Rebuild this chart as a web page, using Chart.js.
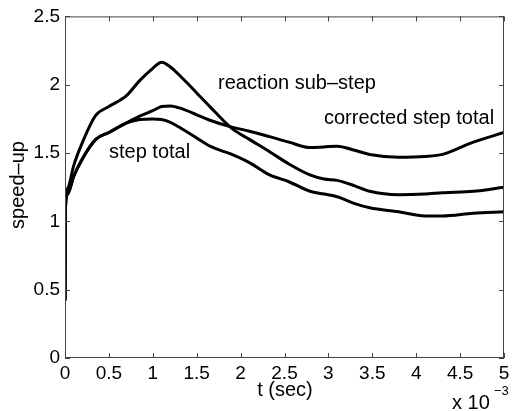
<!DOCTYPE html>
<html>
<head>
<meta charset="utf-8">
<script src="https://cdn.jsdelivr.net/npm/chart.js@4"></script>
<style>
  html, body { margin: 0; padding: 0; background: #fff; }
  #wrap { width: 516px; height: 411px; }
</style>
</head>
<body>
<div id="wrap"><canvas id="speedChart" width="516" height="411"></canvas></div>
<script>
// time in units of 1e-3 sec
const times = [0, 0.005, 0.03, 0.1, 0.2, 0.35, 0.5, 0.7, 0.85, 1.0, 1.1, 1.2, 1.35, 1.5, 1.65, 1.9, 2.1, 2.33, 2.55, 2.79, 2.95, 3.1, 3.3, 3.47, 3.8, 4.1, 4.3, 4.65, 5.0];
const reactionSubStep = [0.42, 1.12, 1.24, 1.41, 1.58, 1.775, 1.84, 1.92, 2.03, 2.12, 2.165, 2.13, 2.04, 1.94, 1.84, 1.68, 1.60, 1.51, 1.42, 1.34, 1.31, 1.30, 1.26, 1.22, 1.195, 1.20, 1.21, 1.22, 1.25];
const correctedStepTotal = [0.42, 1.1, 1.2, 1.33, 1.46, 1.60, 1.65, 1.72, 1.77, 1.81, 1.84, 1.845, 1.82, 1.78, 1.74, 1.69, 1.66, 1.62, 1.58, 1.54, 1.545, 1.55, 1.52, 1.49, 1.47, 1.475, 1.49, 1.58, 1.65];
const stepTotal = [0.42, 1.1, 1.2, 1.33, 1.46, 1.60, 1.65, 1.72, 1.745, 1.75, 1.745, 1.725, 1.67, 1.61, 1.55, 1.49, 1.43, 1.34, 1.29, 1.22, 1.20, 1.18, 1.13, 1.10, 1.07, 1.04, 1.04, 1.06, 1.07];
const xTicks = [0, 0.5, 1, 1.5, 2, 2.5, 3, 3.5, 4, 4.5, 5];
const yTicks = [0, 0.5, 1, 1.5, 2, 2.5];

const FONT = "'Liberation Sans', Arial, Helvetica, sans-serif";

function toPoints(ys) {
    return times.map((t, i) => ({ x: t, y: ys[i] }));
}

function lineSet(label, ys) {
    return {
        label: label,
        data: toPoints(ys),
        borderColor: "#000",
        borderWidth: 3,
        pointRadius: 0,
        fill: false,
        cubicInterpolationMode: "monotone"
    };
}

// box, inward ticks and text labels, matlab style
const matlabFrame = {
    id: "matlabFrame",
    afterDraw(chart) {
        const c = chart.ctx;
        const a = chart.chartArea;
        const xs = chart.scales.x, ys = chart.scales.y;
        c.save();
        c.strokeStyle = "#444";
        c.lineWidth = 1;
        c.strokeRect(a.left + 0.5, a.top + 0.5, a.right - a.left - 1, a.bottom - a.top - 1);
        c.beginPath();
        xTicks.forEach(v => {
            const px = Math.round(xs.getPixelForValue(v)) + 0.5;
            c.moveTo(px, a.bottom); c.lineTo(px, a.bottom - 5);
            c.moveTo(px, a.top); c.lineTo(px, a.top + 5);
        });
        yTicks.forEach(v => {
            const py = Math.round(ys.getPixelForValue(v)) + 0.5;
            c.moveTo(a.left, py); c.lineTo(a.left + 5, py);
            c.moveTo(a.right, py); c.lineTo(a.right - 5, py);
        });
        c.stroke();

        c.fillStyle = "#000";
        c.font = "20px " + FONT;
        c.textBaseline = "middle";
        c.textAlign = "left";
        c.fillText("reaction sub\u2013step", 218, 83);
        c.fillText("corrected step total", 324, 118);
        c.fillText("step total", 109, 152);

        c.textAlign = "center";
        c.fillText("t (sec)", 285, 390);
        c.textAlign = "left";
        c.fillText("x 10", 452, 403);
        c.font = "13px " + FONT;
        c.fillText("\u22123", 494, 391);

        c.font = "20px " + FONT;
        c.translate(18, 185);
        c.rotate(-Math.PI / 2);
        c.textAlign = "center";
        c.fillText("speed\u2013up", 0, 0);
        c.restore();
    }
};

document.addEventListener("DOMContentLoaded", function () {
    const ctx = document.getElementById("speedChart").getContext("2d");

    new Chart(ctx, {
        type: "line",
        data: {
            datasets: [
                lineSet("reaction sub-step", reactionSubStep),
                lineSet("corrected step total", correctedStepTotal),
                lineSet("step total", stepTotal)
            ]
        },
        options: {
            responsive: false,
            animation: false,
            layout: { padding: { left: 0, right: 12, top: 13, bottom: 0 } },
            plugins: { legend: { display: false }, tooltip: { enabled: false } },
            scales: {
                x: {
                    type: "linear",
                    min: 0,
                    max: 5,
                    grid: { display: false, drawTicks: false },
                    border: { display: false },
                    afterBuildTicks: s => { s.ticks = xTicks.map(v => ({ value: v })); },
                    afterFit: s => { s.height = 53; },
                    ticks: {
                        color: "#000", font: { family: FONT, size: 19 }, padding: 4,
                        maxRotation: 0, autoSkip: false, callback: v => String(v)
                    }
                },
                y: {
                    min: 0,
                    max: 2.5,
                    grid: { display: false, drawTicks: false },
                    border: { display: false },
                    afterBuildTicks: s => { s.ticks = yTicks.map(v => ({ value: v })); },
                    afterFit: s => { s.width = 65; },
                    ticks: { color: "#000", font: { family: FONT, size: 19 }, padding: 5, callback: v => String(v) }
                }
            }
        },
        plugins: [matlabFrame]
    });
});
</script>
</body>
</html>
